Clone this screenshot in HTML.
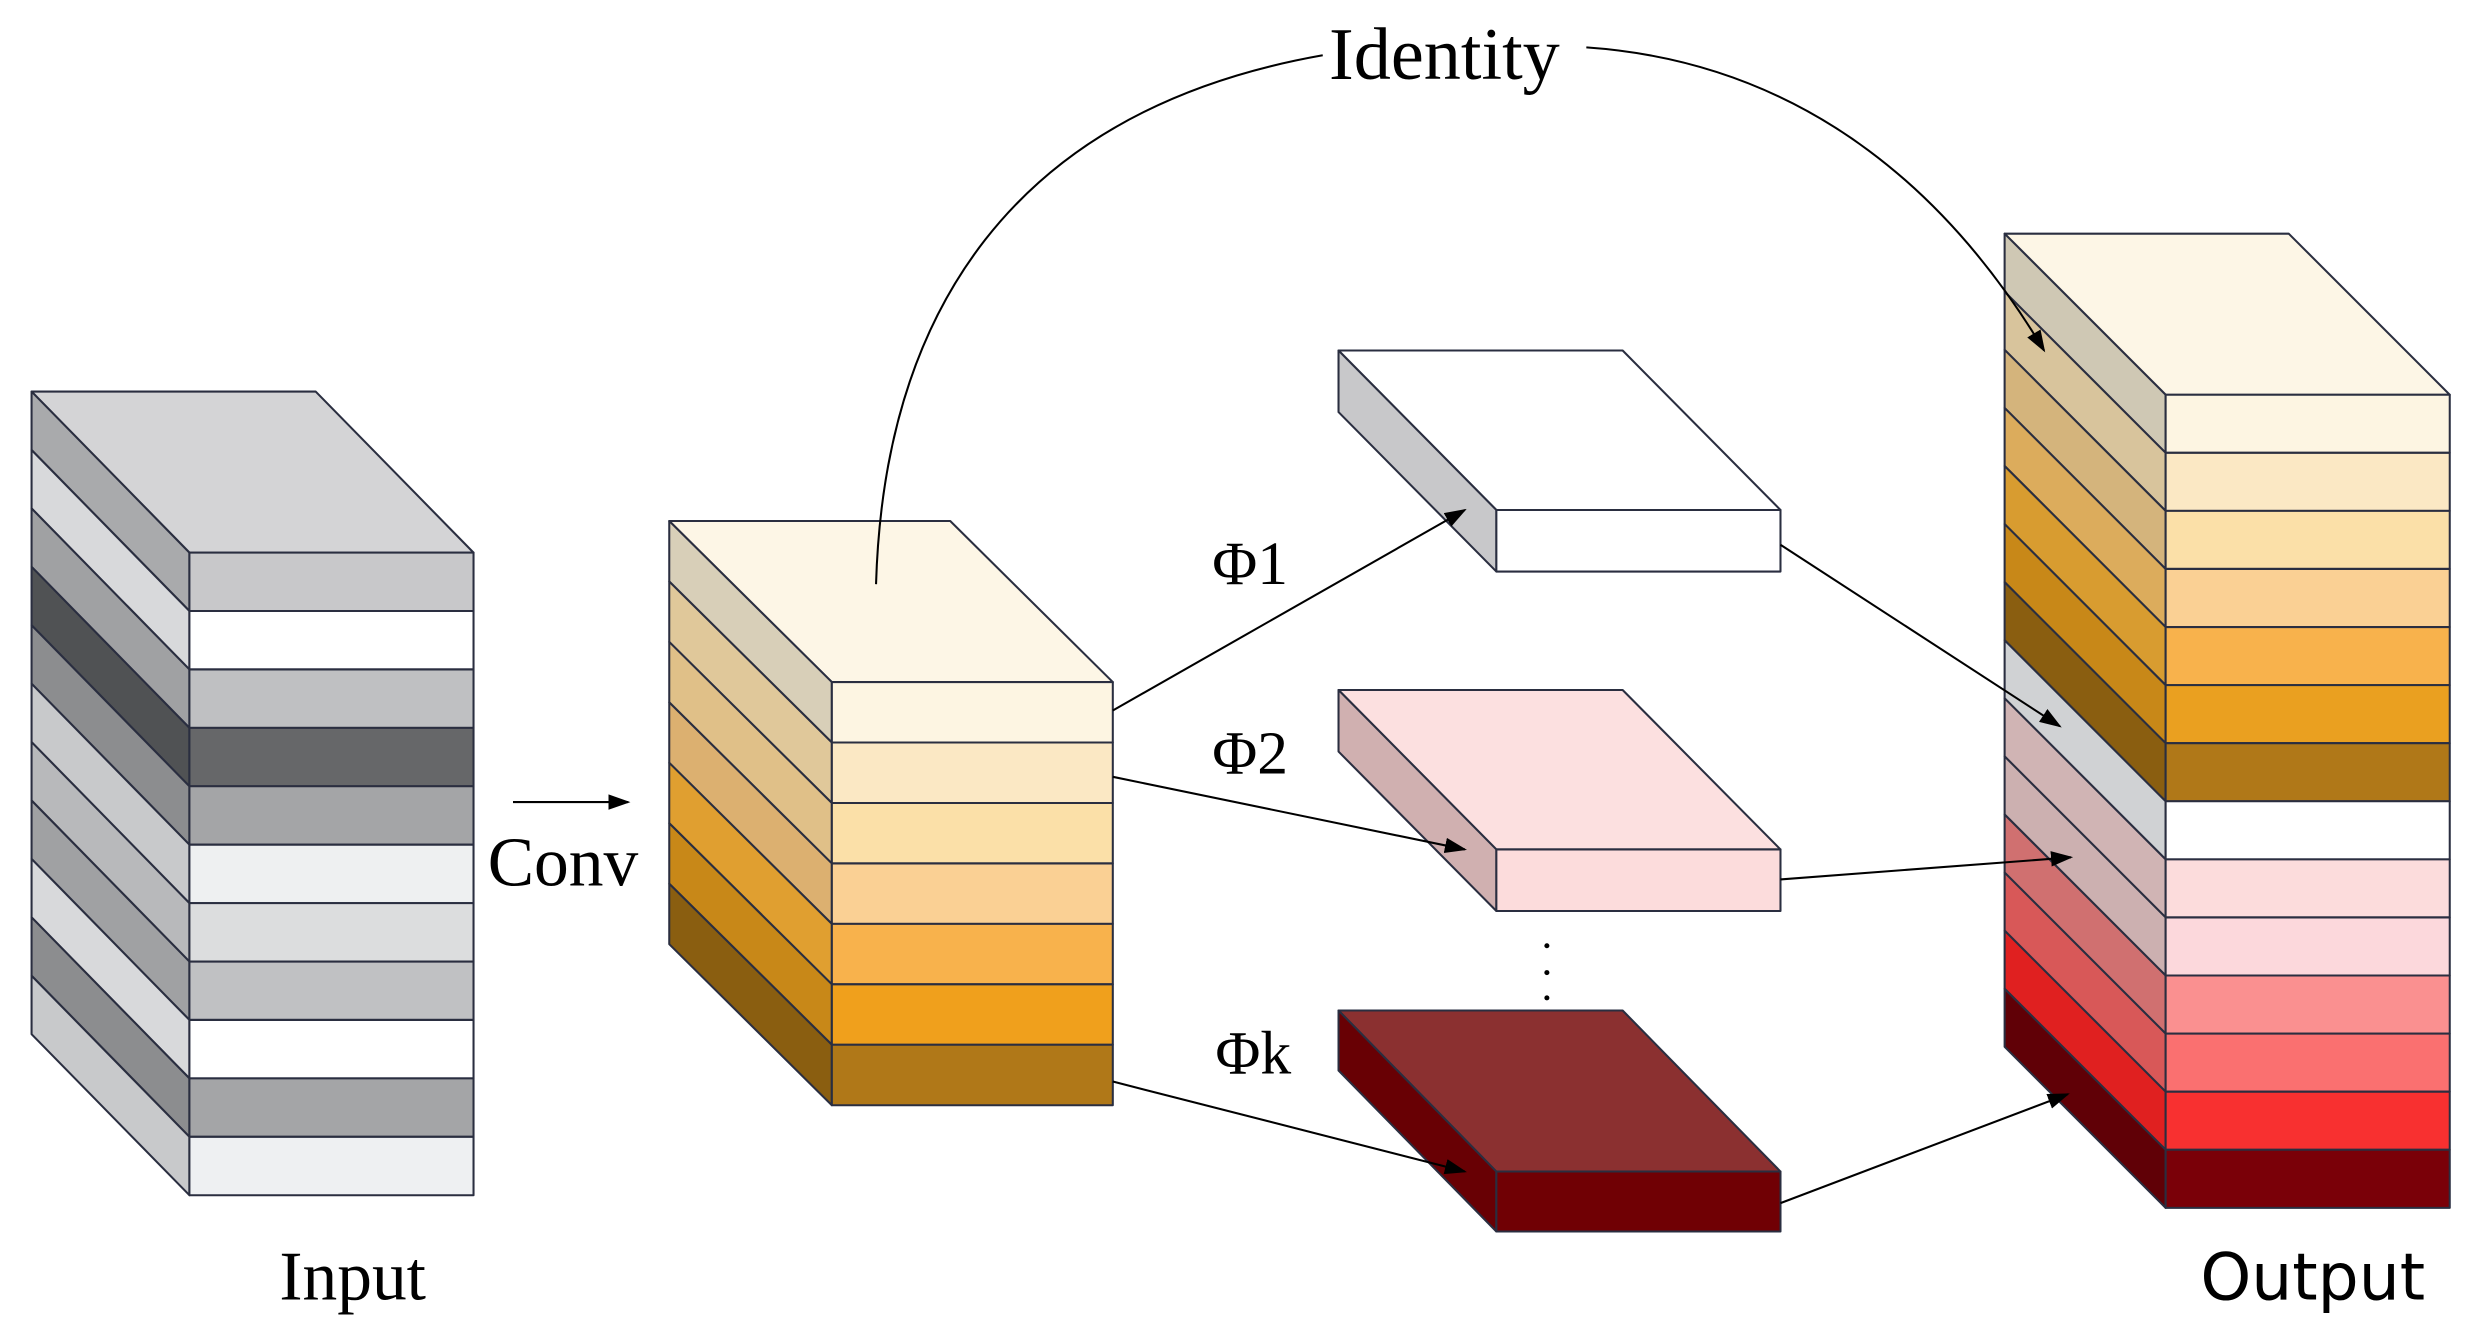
<!DOCTYPE html>
<html><head><meta charset="utf-8">
<style>
html,body{margin:0;padding:0;background:#fff;}
svg{display:block;}
.serif{font-family:"Liberation Serif",serif;}
.sans{font-family:"DejaVu Sans","Liberation Sans",sans-serif;}
</style></head>
<body>
<svg id="s" width="2475" height="1331" viewBox="0 0 1568 843" preserveAspectRatio="none" xmlns="http://www.w3.org/2000/svg">
<defs>
<marker id="ah2" viewBox="0 0 10 10" refX="9" refY="5" markerWidth="14" markerHeight="14" orient="auto" markerUnits="userSpaceOnUse">
<path d="M0,1.5 L10,5 L0,8.5 z" fill="#000"/>
</marker>
</defs>
<g id="shapes"></g>
<g fill="none" stroke="#000" stroke-width="1.3">
<line x1="705" y1="450" x2="928" y2="323" marker-end="url(#ah2)"/>
<line x1="705" y1="492" x2="928" y2="538" marker-end="url(#ah2)"/>
<line x1="705" y1="685" x2="928" y2="742" marker-end="url(#ah2)"/>
<line x1="1128" y1="345" x2="1305" y2="460" marker-end="url(#ah2)"/>
<line x1="1128" y1="557" x2="1312" y2="543" marker-end="url(#ah2)"/>
<line x1="1128" y1="762" x2="1310" y2="693" marker-end="url(#ah2)"/>
<line x1="325" y1="508" x2="398" y2="508" marker-end="url(#ah2)"/>
<path d="M555,370 C560,200 640,70 838,35"/>
<path d="M1005,30 C1150,40 1240,130 1295,222" marker-end="url(#ah2)"/>
</g>
<g fill="#000">
<circle cx="980" cy="599" r="1.6"/><circle cx="980" cy="616" r="1.6"/><circle cx="980" cy="632" r="1.6"/>
</g>
<text class="serif" x="842" y="50" font-size="47">Identity</text>
<text class="serif" x="768" y="370" font-size="39">Φ1</text>
<text class="serif" x="768" y="490" font-size="39">Φ2</text>
<text class="serif" x="770" y="680" font-size="39">Φk</text>
<text class="serif" x="309" y="561" font-size="44">Conv</text>
<text class="serif" x="177" y="823" font-size="44">Input</text>
<text class="sans" x="1394" y="823" font-size="41">Output</text>
</svg>
<script>
var g=document.getElementById('shapes'),NS='http://www.w3.org/2000/svg';
function poly(pts,fill,sw){var p=document.createElementNS(NS,'polygon');p.setAttribute('points',pts.map(function(a){return a.join(',')}).join(' '));p.setAttribute('fill',fill);p.setAttribute('stroke','#2a2e40');p.setAttribute('stroke-width',sw||1.3);p.setAttribute('stroke-linejoin','round');g.appendChild(p);}
function stack(x0,x1,top,bottom,dx,dy,top_c,fronts,sides){
 var n=fronts.length,h=(bottom-top)/n;
 poly([[x0-dx,top-dy],[x1-dx,top-dy],[x1,top],[x0,top]],top_c);
 for(var i=0;i<n;i++){var a=top+i*h,b=a+h;
  poly([[x0-dx,a-dy],[x0,a],[x0,b],[x0-dx,b-dy]],sides[i]);
  poly([[x0,a],[x1,a],[x1,b],[x0,b]],fronts[i]);}
}
stack(120,300,350,757,100,102,'#d4d4d6',
['#c8c8ca','#ffffff','#bfc0c2','#666769','#a4a5a7','#eef0f1','#dcddde','#c0c1c3','#ffffff','#a4a5a7','#eef0f2'],
['#a9aaac','#d8d9db','#a0a1a3','#505254','#8c8d8f','#c8c9cb','#b8b9bb','#a0a1a3','#d8d9db','#8c8d8f','#c8c9cb']);
stack(527,705,432,700,103,102,'#fdf6e6',
['#fdf5e2','#fbe8c4','#fbe0a8','#fad094','#f8b24c','#f0a01c','#b07818'],
['#d8cfb8','#e0c89a','#e0c088','#dcb070','#e09f30','#c88818','#8a5e10']);
stack(948,1128,323,362,100,101,'#ffffff',['#ffffff'],['#c8c8ca']);
stack(948,1128,538,577,100,101,'#fce0e0',['#fcdcdc'],['#d0b0b0']);
stack(948,1128,742,780,100,102,'#8b3030',['#700004'],['#680004']);
stack(1372,1552,250,765,102,102,'#fdf6e6',
['#fdf5e2','#fbe8c4','#fbe0a8','#fad094','#f8b24c','#eaa020','#b07818','#ffffff','#fcdcdc','#fcd8dc','#fa9090','#fa7070','#f83030','#7a0008'],
['#cfc8b4','#d8c49c','#d4b47c','#dcac5c','#d89c30','#c88818','#8a5e10','#d0d2d4','#d0b4b4','#ccb0b0','#d07070','#d85858','#e02020','#600006']);
</script>
</body></html>
